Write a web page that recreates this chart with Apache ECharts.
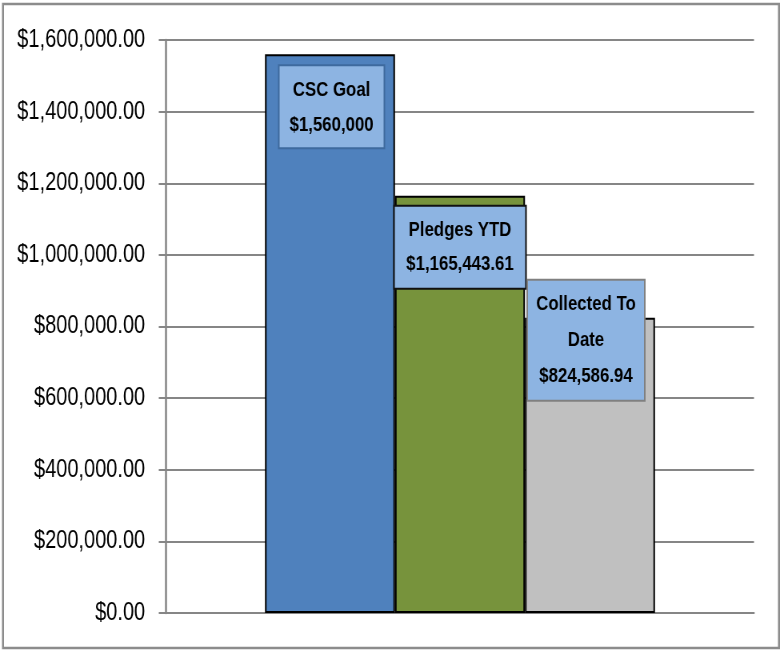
<!DOCTYPE html>
<html>
<head>
<meta charset="utf-8">
<script src="https://cdn.jsdelivr.net/npm/echarts@6/dist/echarts.min.js"></script>
<style>
html,body{margin:0;padding:0;background:#fff;overflow:hidden;}
#wrap{width:784px;height:650px;overflow:hidden;position:relative;}
/* the reference is horizontally condensed: draw at 980px wide and condense to 784px */
#chart{width:980px;height:650px;transform:scaleX(0.8);transform-origin:0 0;}
</style>
</head>
<body>
<div id="wrap"><div id="chart"></div></div>
<script>
// ---- data ----
var categories = ['CSC'];
var seriesNames = ['CSC Goal', 'Pledges YTD', 'Collected To Date'];
var seriesValues = [1560000, 1165443.61, 824586.94];
var labelTitles = ['CSC Goal', 'Pledges YTD', 'Collected To\nDate'];
var labelValues = ['$1,560,000', '$1,165,443.61', '$824,586.94'];
var yTicks = [0, 200000, 400000, 600000, 800000, 1000000, 1200000, 1400000, 1600000];

var FONT = "'Liberation Sans', Arial, sans-serif";
var colors = ['#4F81BD', '#77933C', '#C0C0C0'];
var labelStyles = [
  {distance: 12, offset: [2, 0], width: 114, padding: [6, 8, 5, 8], lineHeight: 35, borderColor: '#3E6A9E'},
  {distance: 11, offset: [0, 0], width: 147, padding: [7, 8, 6, 8], lineHeight: 34, borderColor: '#111111'},
  {distance: 0, offset: [-5, -37], width: 127, padding: [6, 9, 5, 9], lineHeight: 36, borderColor: '#808080'}
];

function fmtMoney(v) {
  return '$' + v.toLocaleString('en-US', {minimumFractionDigits: 2, maximumFractionDigits: 2});
}

var series = seriesNames.map(function (name, i) {
  var ls = labelStyles[i];
  return {
    name: name,
    type: 'bar',
    barWidth: 162.5,
    barGap: '0%',
    data: [{
      value: seriesValues[i],
      label: {
        show: true,
        position: 'insideTop',
        distance: ls.distance,
        offset: ls.offset,
        formatter: labelTitles[i] + '\n' + labelValues[i],
        fontFamily: FONT,
        fontWeight: 'bold',
        fontSize: 21,
        color: '#000',
        align: 'center',
        width: ls.width,
        lineHeight: ls.lineHeight,
        backgroundColor: '#8DB4E2',
        borderColor: ls.borderColor,
        borderWidth: 2,
        padding: ls.padding
      }
    }],
    itemStyle: {color: colors[i], borderColor: '#000', borderWidth: 2},
    z: 2 + i
  };
});

var chart = echarts.init(document.getElementById('chart'), null, {renderer: 'canvas'});
chart.setOption({
  animation: false,
  backgroundColor: '#fff',
  grid: {left: 207.5, right: 37.5, top: 40, bottom: 37, containLabel: false},
  xAxis: {
    type: 'category',
    data: categories,
    axisLine: {show: true, lineStyle: {color: '#868686', width: 2}},
    axisTick: {show: false},
    axisLabel: {show: false}
  },
  yAxis: {
    type: 'value',
    min: yTicks[0],
    max: yTicks[yTicks.length - 1],
    interval: yTicks[1] - yTicks[0],
    axisLine: {show: true, lineStyle: {color: '#868686', width: 2.5}},
    axisTick: {show: true, length: 9, lineStyle: {color: '#868686', width: 2}},
    splitLine: {show: true, lineStyle: {color: '#868686', width: 2}},
    axisLabel: {
      formatter: fmtMoney,
      fontFamily: FONT,
      fontSize: 25,
      color: '#000',
      margin: 26
    }
  },
  graphic: [{
    type: 'rect',
    shape: {x: 3.75, y: 4, width: 970, height: 644},
    style: {fill: 'none', stroke: '#8C8C8C', lineWidth: 2.5},
    silent: true
  }],
  series: series
});
</script>
</body>
</html>
